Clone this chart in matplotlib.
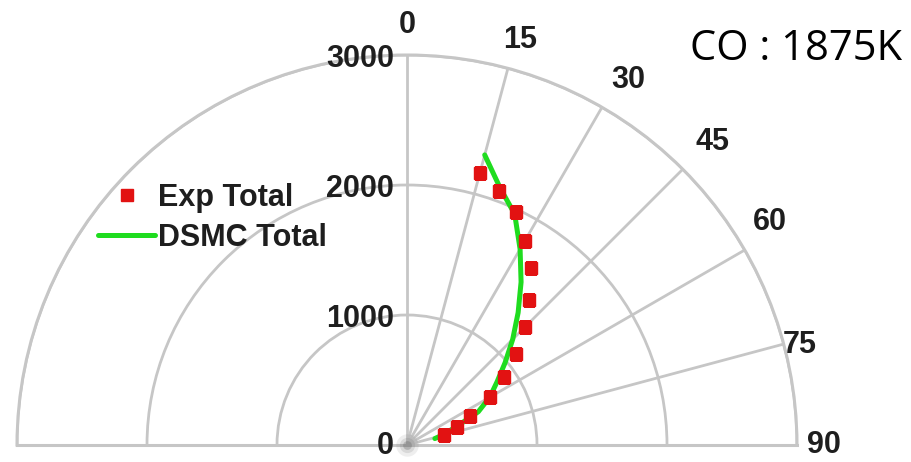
import numpy as np
import matplotlib
matplotlib.use("Agg")
import matplotlib.pyplot as plt
from matplotlib.transforms import offset_copy

# =========================
# Data
# =========================
exp_angle = [15, 20, 25, 30, 35, 40, 45, 50, 55, 60, 65, 70, 75]
exp_total = [2170, 2080, 1980, 1810, 1665, 1455, 1280, 1090, 910, 735, 535, 410, 295]

dsmc_angle = [15, 20, 25, 30, 35, 40, 45, 50, 55, 60, 65, 70, 75, 77]
dsmc_total = [2310, 2100, 1960, 1740, 1530, 1330, 1150, 985, 845, 735, 605, 395, 265, 220]

theta_ticks = [0, 15, 30, 45, 60, 75, 90]
r_ticks = [0, 1000, 2000, 3000]
r_max = 3000

GRID = "#c6c6c6"
TXT = "#1e1e1e"
tick_font = dict(family="Liberation Sans", weight="bold", size=22, color=TXT)

fig = plt.figure(figsize=(9.12, 4.62), dpi=100)
# half disc: centre at (407, 445) px, radius 390 px.
# polar wedge bbox is padded to a square, centre sits 1/4 up from the bottom
R = 390
ax = fig.add_axes([(407 - R) / 912, (462 - 445 - R / 2) / 462,
                   2 * R / 912, 2 * R / 462], projection="polar")
ax.set_theta_zero_location("N")
ax.set_theta_direction(-1)
ax.set_thetamin(-90)
ax.set_thetamax(90)
ax.set_rlim(0, r_max)

ax.set_xticks(np.deg2rad(theta_ticks))
ax.set_xticklabels([])
ax.set_yticks(r_ticks[1:])
ax.set_yticklabels([])
ax.tick_params(length=0)
ax.grid(True, color=GRID, lw=2.0)
for sp in ax.spines.values():
    sp.set_color(GRID)
    sp.set_linewidth(2.2)

# soft grey spot where the spokes meet
for s, a in [(260, 0.10), (120, 0.15), (40, 0.3)]:
    ax.scatter([0], [0], s=s, color="#606060", alpha=a, lw=0, zorder=3,
               clip_on=False)

# curves
ax.plot(np.deg2rad(dsmc_angle), dsmc_total, color="#1fdc1f", lw=3.6,
        solid_capstyle="round", zorder=4, label="DSMC Total")
ax.plot(np.deg2rad(exp_angle), exp_total, ls="none", marker="s", ms=8,
        color="#e21212", mec="#e21212", zorder=5, label="Exp Total")

# angle labels (outside the rim)
label_pos = {0: (0, 3231), 15: (15.6, 3235), 30: (31.2, 3282), 45: (45.2, 3307),
             60: (58.4, 3277), 75: (75.7, 3119), 90: (90, 3208)}
for t in theta_ticks:
    a, r = label_pos[t]
    ax.text(np.deg2rad(a), r, str(t), ha="center", va="center",
            clip_on=False, **tick_font)

# radial labels along the 0 axis, left side
for r in r_ticks:
    dy = -1 if r == 0 else -4
    rtrans = offset_copy(ax.transData, fig=fig, x=-13, y=dy, units="dots")
    ax.text(0, r, str(r), ha="right", va="center", transform=rtrans,
            clip_on=False, **tick_font)

# legend
h, l = ax.get_legend_handles_labels()
leg = fig.legend(h[::-1], l[::-1], loc="center left",
                 bbox_to_anchor=(98 / 912, 1 - 218 / 462), frameon=False,
                 handlelength=1.87, handletextpad=0.1, labelspacing=0.33,
                 borderpad=0, borderaxespad=0,
                 prop=dict(family="Liberation Sans", weight="bold", size=22))
for t in leg.get_texts():
    t.set_color(TXT)

fig.text(796 / 912, 1 - 49 / 462, "CO : 1875K", ha="center", va="center",
         family="Open Sans", size=30, color="black")

fig.savefig("out.png", dpi=100)
